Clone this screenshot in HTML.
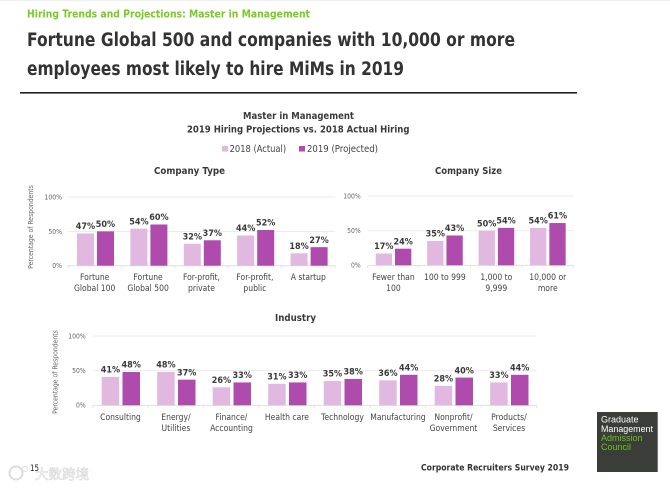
<!DOCTYPE html>
<html lang="en">
<head>
<meta charset="utf-8">
<title>Hiring Trends and Projections: Master in Management</title>
<style>
html,body{margin:0;padding:0;background:#fff;}
svg{display:block;font-family:"DejaVu Sans","Liberation Sans","Noto Sans CJK SC",sans-serif;}
</style>
</head>
<body>
<svg id="page" width="670" height="488" viewBox="0 0 670 488" xmlns="http://www.w3.org/2000/svg">
<rect width="670" height="488" fill="#fff"/>
<rect width="670" height="1" fill="#f0f0f0"/>
<text x="27" y="17.5" font-size="10.8" font-weight="700" fill="#7ac925" textLength="283" lengthAdjust="spacingAndGlyphs">Hiring Trends and Projections: Master in Management</text>
<text x="27" y="46" font-size="18.2" font-weight="700" fill="#333" textLength="488" lengthAdjust="spacingAndGlyphs">Fortune Global 500 and companies with 10,000 or more</text>
<text x="27" y="75" font-size="18.2" font-weight="700" fill="#333" textLength="377" lengthAdjust="spacingAndGlyphs">employees most likely to hire MiMs in 2019</text>
<rect x="20" y="92" width="557" height="1.6" fill="#222"/>
<text x="243" y="119" font-size="9.6" font-weight="700" fill="#3a3a3a" textLength="111" lengthAdjust="spacingAndGlyphs">Master in Management</text>
<text x="187" y="132.7" font-size="9.6" font-weight="700" fill="#3a3a3a" textLength="222.5" lengthAdjust="spacingAndGlyphs">2019 Hiring Projections vs. 2018 Actual Hiring</text>
<g>
  <rect x="222" y="146" width="6" height="5.5" fill="#e0b8e0"/>
  <text x="229.6" y="152" font-size="9.4" fill="#444" textLength="56.5" lengthAdjust="spacingAndGlyphs">2018 (Actual)</text>
  <rect x="299" y="146" width="6" height="5.5" fill="#ae4bad"/>
  <text x="307" y="152" font-size="9.4" fill="#444" textLength="71" lengthAdjust="spacingAndGlyphs">2019 (Projected)</text>
</g>
<text x="154" y="174" font-size="9.6" font-weight="700" fill="#3a3a3a" textLength="71" lengthAdjust="spacingAndGlyphs">Company Type</text>
<text x="435" y="174" font-size="9.6" font-weight="700" fill="#3a3a3a" textLength="67" lengthAdjust="spacingAndGlyphs">Company Size</text>
<text x="275" y="321" font-size="9.6" font-weight="700" fill="#3a3a3a" textLength="41" lengthAdjust="spacingAndGlyphs">Industry</text>
<g id="charts"></g>
<g>
  <circle cx="16" cy="473" r="6.5" fill="none" stroke="#dcdcdc" stroke-width="2"/>
  <circle cx="25" cy="469" r="2.5" fill="none" stroke="#dedede" stroke-width="1"/>
  <text x="35" y="479" font-size="13.5" fill="#fff" stroke="#d8d8d8" stroke-width="0.6" style="font-family:'Noto Sans CJK SC',sans-serif" textLength="54" lengthAdjust="spacingAndGlyphs">大数跨境</text>
</g>
<text x="30" y="471" font-size="9" fill="#222" textLength="9" lengthAdjust="spacingAndGlyphs">15</text>
<text x="421" y="470.7" font-size="9" font-weight="700" fill="#333" textLength="148" lengthAdjust="spacingAndGlyphs">Corporate Recruiters Survey 2019</text>
<g style="font-family:'Liberation Sans',sans-serif" font-size="9">
  <rect x="597" y="412" width="60.7" height="60" fill="#3a3d38"/>
  <text x="601" y="422.7" fill="#fff">Graduate</text>
  <text x="601" y="431.8" fill="#fff" textLength="52" lengthAdjust="spacingAndGlyphs">Management</text>
  <text x="601" y="441" fill="#6cc01f">Admission</text>
  <text x="601" y="450" fill="#6cc01f">Council</text>
</g>
</svg>
<script>
var typeCategories = [["Fortune", "Global 100"], ["Fortune", "Global 500"], ["For-profit,", "private"], ["For-profit,", "public"], ["A startup"]];
var typeActual2018 = [47, 54, 32, 44, 18];
var typeProjected2019 = [50, 60, 37, 52, 27];

var sizeCategories = [["Fewer than", "100"], ["100 to 999"], ["1,000 to", "9,999"], ["10,000 or", "more"]];
var sizeActual2018 = [17, 35, 50, 54];
var sizeProjected2019 = [24, 43, 54, 61];

var industryCategories = [["Consulting"], ["Energy/", "Utilities"], ["Finance/", "Accounting"], ["Health care"], ["Technology"], ["Manufacturing"], ["Nonprofit/", "Government"], ["Products/", "Services"]];
var industryActual2018 = [41, 48, 26, 31, 35, 36, 28, 33];
var industryProjected2019 = [48, 37, 33, 33, 38, 44, 40, 44];

var yTickValues = [0, 50, 100];

var NS = "http://www.w3.org/2000/svg";
var root = document.getElementById("charts");

function addText(parent, str, x, y, size, fill, weight, anchor, squeeze) {
  var el = document.createElementNS(NS, "text");
  el.textContent = str;
  el.setAttribute("x", x);
  el.setAttribute("y", y);
  el.setAttribute("font-size", size);
  el.setAttribute("fill", fill);
  el.setAttribute("font-weight", weight);
  el.setAttribute("text-anchor", anchor);
  parent.appendChild(el);
  var len = el.getComputedTextLength();
  el.setAttribute("textLength", len * squeeze);
  el.setAttribute("lengthAdjust", "spacingAndGlyphs");
  return el;
}

function addRect(parent, x, y, w, h, fill) {
  var el = document.createElementNS(NS, "rect");
  el.setAttribute("x", x);
  el.setAttribute("y", y);
  el.setAttribute("width", w);
  el.setAttribute("height", h);
  el.setAttribute("fill", fill);
  parent.appendChild(el);
  return el;
}

function drawChart(name, cfg, categories, actual, projected) {
  var g = document.createElementNS(NS, "g");
  
  
  root.appendChild(g);

  var catW = (cfg.right - cfg.left) / categories.length;
  function xBand(i) { return cfg.left + i * catW; }
  function yScale(v) { return cfg.y0 - (v / 100) * (cfg.y0 - cfg.y100); }

  yTickValues.forEach(function (t) {
    var y = yScale(t);
    var line = addRect(g, cfg.left, y - 0.4, cfg.right - cfg.left, 0.9, t === 0 ? "#dcdcdc" : "#e8e8e8");
    
    
    var lab = addText(g, t + "%", cfg.tickRight, y + 2.4, 6.8, "#666", 400, "end", 0.9);
    
    
  });

  for (var k = 0; k <= categories.length; k++) {
    var tick = addRect(g, xBand(k) - 0.4, cfg.y0, 0.8, 2.5, "#dcdcdc");
    
    
  }

  if (cfg.titleX) {
    var yt = addText(g, "Percentage of Respondents", 0, 0, 6.8, "#666", 400, "middle", 0.9);
    yt.setAttribute("transform", "translate(" + cfg.titleX + "," + cfg.titleY + ") rotate(-90)");
    
    
  }

  categories.forEach(function (lines, i) {
    var x0 = xBand(i) + cfg.offset;
    var x1 = x0 + cfg.barW + cfg.gap;

    var b0 = addRect(g, x0, yScale(actual[i]), cfg.barW, cfg.y0 - yScale(actual[i]), "#e0b8e0");
    
    
    var b1 = addRect(g, x1, yScale(projected[i]), cfg.barW, cfg.y0 - yScale(projected[i]), "#ae4bad");
    
    

    var v0 = addText(g, actual[i] + "%", x0 + cfg.barW / 2, yScale(actual[i]) - 4.3, 8.8, "#3a3a3a", 700, "middle", 0.92);
    
    
    var v1 = addText(g, projected[i] + "%", x1 + cfg.barW / 2, yScale(projected[i]) - 4.3, 8.8, "#3a3a3a", 700, "middle", 0.92);
    
    

    lines.forEach(function (line, j) {
      var c = addText(g, line, xBand(i) + catW / 2, cfg.labelY + j * cfg.labelStep, 9, "#444", 400, "middle", 0.85);
      
      
    });
  });
}

drawChart("company-type-chart",
  { left: 68, right: 335, y0: 265.7, y100: 197, offset: 9, barW: 17, gap: 3, tickRight: 62, labelY: 280, labelStep: 10.8, titleX: 33, titleY: 227 },
  typeCategories, typeActual2018, typeProjected2019);

drawChart("company-size-chart",
  { left: 367.7, right: 573.5, y0: 265.3, y100: 196, offset: 8, barW: 16.3, gap: 3, tickRight: 360.7, labelY: 280, labelStep: 10.8 },
  sizeCategories, sizeActual2018, sizeProjected2019);

drawChart("industry-chart",
  { left: 92.7, right: 536.7, y0: 405.3, y100: 336, offset: 9, barW: 17.5, gap: 3.3, tickRight: 85.7, labelY: 420, labelStep: 10.8, titleX: 57.5, titleY: 372 },
  industryCategories, industryActual2018, industryProjected2019);
</script>
</body>
</html>
